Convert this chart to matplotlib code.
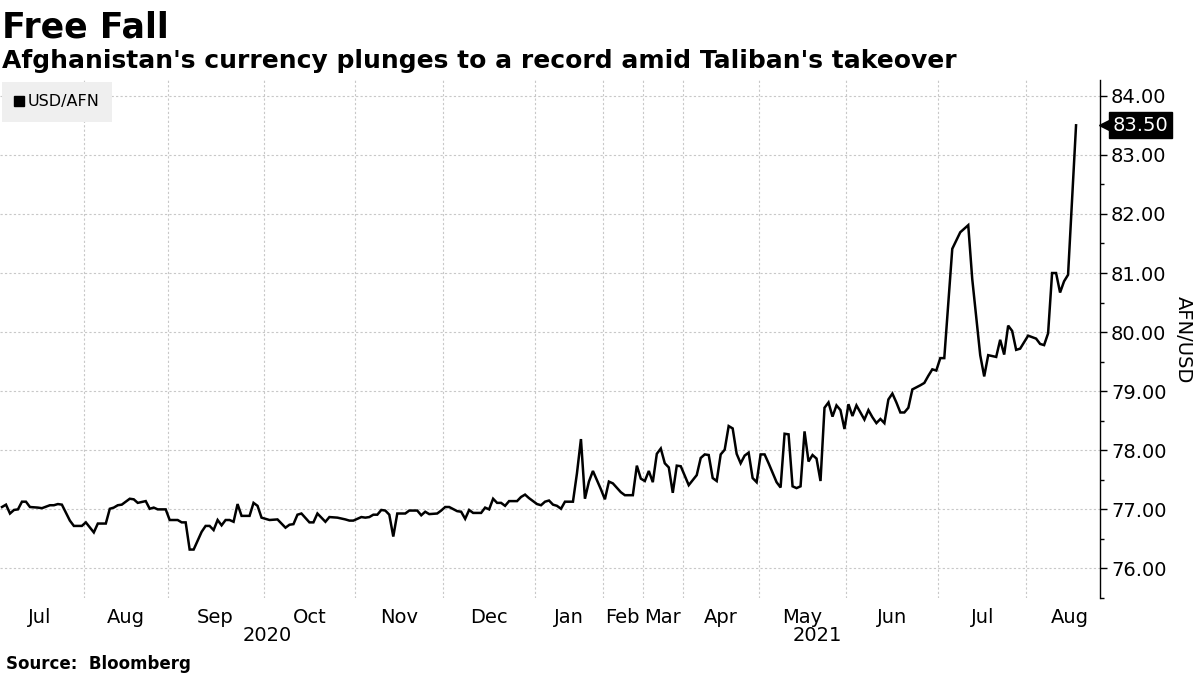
import numpy as np
import matplotlib.pyplot as plt
from matplotlib.lines import Line2D
from matplotlib.transforms import blended_transform_factory

# Номер торговой сессии (ось X идёт по наблюдениям, а не по календарю)
sessions = [0, 1, 2, 3, 4, 5, 6, 7, 9, 10, 12, 13, 14, 15, 17, 18, 20, 21, 23, 24,
            26, 27, 28, 29, 30, 32, 33, 34, 36, 37, 38, 39, 41, 42, 44, 45, 46, 47, 48, 50,
            51, 52, 53, 54, 55, 56, 57, 58, 59, 60, 62, 63, 64, 65, 67, 69, 71, 72, 73, 74,
            75, 77, 78, 79, 80, 81, 82, 84, 86, 87, 88, 90, 91, 92, 93, 94, 95, 96, 97, 98,
            99, 100, 101, 102, 104, 105, 106, 107, 109, 110, 111, 112, 114, 115, 116, 117,
            118, 120, 121, 122, 123, 124, 125, 126, 127, 129, 130, 131, 132, 134, 135, 136,
            137, 138, 139, 140, 141, 143, 144, 145, 146, 147, 148,
            150, 151, 152, 153, 155, 156, 158, 159, 160, 161, 162, 163, 164, 165, 166, 167,
            168, 169, 170, 172, 174, 175, 176, 177, 178, 179, 180, 181, 182, 183, 184, 185,
            186, 187, 188, 189, 190, 191, 192, 194, 195, 196, 197, 198, 199, 200,
            201, 202, 203, 204, 205, 206, 207, 208, 209, 210, 211, 212, 213, 214, 216, 217,
            218, 219, 220, 221, 222, 223, 224, 225, 226, 227, 228, 230, 231, 232, 233, 234,
            235, 236, 238, 240, 242, 243, 245, 246, 247, 249, 250, 251, 252, 253, 254, 255,
            257, 259, 260, 261, 262, 263, 264, 265, 266, 267, 269]

usd_afn = [77.04, 77.08, 76.93, 76.99, 77.00, 77.13, 77.13, 77.04, 77.03, 77.02,
           77.07, 77.07, 77.09, 77.08, 76.81, 76.72, 76.72, 76.78, 76.61, 76.76,
           76.76, 77.01, 77.03, 77.07, 77.08, 77.18, 77.17, 77.11, 77.14, 77.01,
           77.03, 77.00, 77.00, 76.82, 76.82, 76.78, 76.78, 76.32, 76.32, 76.62,
           76.72, 76.72, 76.65, 76.82, 76.73, 76.82, 76.82, 76.79, 77.09, 76.89,
           76.89, 77.11, 77.06, 76.86, 76.82, 76.83, 76.69, 76.74, 76.75, 76.91,
           76.93, 76.78, 76.78, 76.93, 76.86, 76.79, 76.87, 76.86, 76.83, 76.81,
           76.81, 76.87, 76.86, 76.87, 76.91, 76.91, 76.99, 76.98, 76.91, 76.54,
           76.93, 76.93,
           76.93, 76.98, 76.98, 76.90, 76.96, 76.92, 76.93, 76.98, 77.04, 77.04,
           76.97, 76.96, 76.84, 76.99, 76.94, 76.94, 77.03, 77.00, 77.18, 77.11,
           77.11, 77.06, 77.14, 77.14, 77.21, 77.25, 77.19, 77.09, 77.07, 77.13,
           77.15, 77.08, 77.06, 77.01, 77.13, 77.13, 77.61, 78.19, 77.18, 77.47,
           77.65,
           77.34, 77.17, 77.47, 77.44, 77.29, 77.24, 77.24, 77.74, 77.52, 77.48,
           77.65, 77.46, 77.94, 78.03, 77.78, 77.71, 77.28, 77.74, 77.73, 77.41,
           77.58, 77.87, 77.93, 77.92, 77.53, 77.48, 77.93, 78.01, 78.41, 78.37,
           77.94, 77.78, 77.91, 77.96, 77.53, 77.46, 77.93, 77.93, 77.78, 77.46,
           77.37, 78.28, 78.27, 77.39, 77.36, 77.39,
           78.32, 77.81, 77.92, 77.86, 77.48, 78.72, 78.81, 78.57, 78.76, 78.68,
           78.36, 78.78, 78.58, 78.76, 78.52, 78.68, 78.56, 78.46, 78.53, 78.46,
           78.86, 78.96, 78.81, 78.64, 78.64, 78.72, 79.03, 79.10, 79.14, 79.26,
           79.37, 79.35, 79.56, 79.56,
           81.41, 81.69, 81.81, 80.90, 79.61, 79.25, 79.61, 79.58, 79.87, 79.62,
           80.11, 80.02, 79.70, 79.72, 79.94, 79.89, 79.80, 79.78, 79.98, 81.00,
           81.00, 80.67, 80.86, 80.97, 83.50]

# Первая сессия каждого месяца (Aug 2020 ... Aug 2021)
month_starts = [21, 42, 66, 89, 111, 134, 151, 161, 171, 190, 212, 235, 257]
month_names = ['Jul', 'Aug', 'Sep', 'Oct', 'Nov', 'Dec',
               'Jan', 'Feb', 'Mar', 'Apr', 'May', 'Jun', 'Jul', 'Aug']
years = ['2020', '2021']
year_start = 134
last_value = usd_afn[-1]

fig = plt.figure(figsize=(12, 6.75), dpi=100)
ax = fig.add_axes([0.0, 1 - 598 / 675, 1100 / 1200, 518 / 675])

ax.plot(sessions, usd_afn, color='black', lw=1.8, solid_joinstyle='miter', zorder=3)

x_left, x_right = -0.5, 275
ax.set_xlim(x_left, x_right)
ax.set_ylim(75.633, 84.267)

# Границы месяцев - пунктирная сетка, подписи по центру месяца
bounds = [month_starts[0] - 22] + month_starts + [month_starts[-1] + 22]
centers = [(bounds[i] + bounds[i + 1]) / 2 - 0.5 for i in range(len(month_names))]
ax.set_xticks(centers, month_names)
ax.set_xticks([m - 0.5 for m in month_starts], minor=True)
ax.tick_params(axis='x', which='both', length=0, labelsize=14, pad=7)
ax.grid(which='minor', axis='x', color='#c8c8c8', lw=0.8, ls=(0, (2, 2)))

trans = blended_transform_factory(ax.transData, ax.transAxes)
year_centers = [(x_left + year_start - 0.5) / 2, (year_start - 0.5 + x_right) / 2]
for yc, yr in zip(year_centers, years):
    ax.text(yc, -0.073, yr, transform=trans, ha='center', va='center', fontsize=14)

ax.yaxis.tick_right()
ax.set_yticks(np.arange(76, 85))
ax.set_yticklabels(['%.2f' % v for v in np.arange(76, 85)])
ax.set_yticks(np.arange(75.5, 84.5, 1.0), minor=True)
ax.tick_params(axis='y', which='major', length=5, width=1, pad=3, labelsize=14)
ax.tick_params(axis='y', which='minor', length=3, width=1)
ax.grid(which='major', axis='y', color='#c8c8c8', lw=0.8, ls=(0, (2, 2)))

for s in ['left', 'top', 'bottom']:
    ax.spines[s].set_visible(False)
ax.spines['right'].set_linewidth(1)

# Последнее значение: чёрная плашка с маленьким треугольником
ytrans = blended_transform_factory(ax.transAxes, ax.transData)
ax.text(1.0115, last_value, '%.2f' % last_value, transform=ytrans, color='white',
        fontsize=14, va='center', ha='left',
        bbox=dict(boxstyle='square,pad=0.18', fc='black', ec='black'), zorder=5)
ax.plot([1.0055], [last_value], marker='<', color='black', markersize=10,
        transform=ytrans, clip_on=False, zorder=5)

handle = Line2D([], [], marker='s', color='black', ls='none', markersize=7.5)
leg = ax.legend([handle], ['USD/AFN'], loc='upper left', bbox_to_anchor=(0, 1.0),
                borderaxespad=0.1, frameon=True, fancybox=False, fontsize=11.5,
                handletextpad=0.2, handlelength=0.6, borderpad=0.8)
leg.get_frame().set_facecolor('#efefef')
leg.get_frame().set_edgecolor('none')
leg.get_frame().set_alpha(1)

fig.text(1183 / 1200, 1 - 340 / 675, 'AFN/USD', rotation=270, ha='center',
         va='center', fontsize=14)

fig.text(0.002, 1 - 38 / 675, 'Free Fall', fontsize=25, weight='bold', va='baseline')
fig.text(0.002, 1 - 68 / 675, "Afghanistan's currency plunges to a record amid Taliban's takeover",
         fontsize=18, weight='bold', va='baseline')
fig.text(0.005, 1 - 669 / 675, 'Source:  Bloomberg', fontsize=12, weight='bold',
         va='baseline')

fig.savefig('out.png', dpi=100)
